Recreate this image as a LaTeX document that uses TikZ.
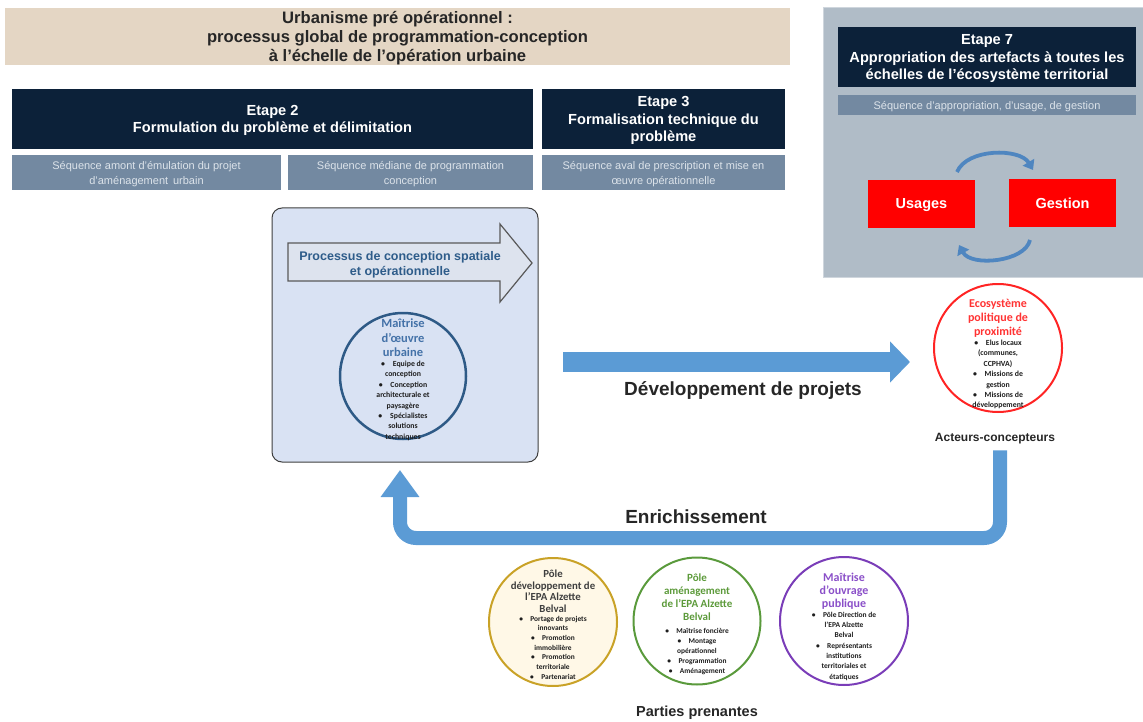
\documentclass[tikz,border=0pt]{standalone}
\usepackage{fontspec}
\setmainfont{Liberation Sans}
\newfontfamily\calib{Carlito}
\usetikzlibrary{arrows.meta}
\definecolor{beige}{HTML}{E4D6C4}
\definecolor{navy}{HTML}{0C2139}
\definecolor{slate}{HTML}{7389A1}
\definecolor{seqtext}{HTML}{DCE3EA}
\definecolor{panelgray}{HTML}{B0BCC7}
\definecolor{panelborder}{HTML}{CFD6DD}
\definecolor{redbox}{HTML}{FF0000}
\definecolor{circblue}{HTML}{4F86C0}
\definecolor{boxfill}{HTML}{D9E2F3}
\definecolor{boxborder}{HTML}{3F3F3F}
\definecolor{procfill}{HTML}{DDE3EE}
\definecolor{procborder}{HTML}{595959}
\definecolor{proctext}{HTML}{2E5C8A}
\definecolor{moborder}{HTML}{2E5A86}
\definecolor{motitle}{HTML}{4472A8}
\definecolor{bigblue}{HTML}{5B9BD5}
\definecolor{ecored}{HTML}{FF2424}
\definecolor{ecotitle}{HTML}{FF3333}
\definecolor{goldb}{HTML}{C9A227}
\definecolor{creamf}{HTML}{FFF8E7}
\definecolor{greenb}{HTML}{5A9A3C}
\definecolor{greent}{HTML}{5C9A3A}
\definecolor{purpleb}{HTML}{7A3DB8}
\definecolor{purplet}{HTML}{8A4FC8}
\definecolor{bullettext}{HTML}{1E1E1E}
\definecolor{darkt}{HTML}{3F3F3F}
\begin{document}
\begin{tikzpicture}[x=1pt,y=-1pt,
  every node/.style={inner sep=0pt, outer sep=0pt},
  boxnw/.style={anchor=north west, align=center, text depth=0pt},
  hdr/.style={boxnw, fill=navy, text=white, font=\bfseries\fontsize{14.6}{17.8}\selectfont},
  seqbox/.style={boxnw, fill=slate, text=seqtext, font=\fontsize{11}{15}\selectfont},
  redrect/.style={boxnw, fill=redbox, text=white, font=\bfseries\fontsize{14.5}{16}\selectfont, minimum width=107pt, minimum height=48pt},
  circarrow/.style={draw=circblue, line width=3.8pt, -{Triangle[width=13pt,length=9pt]}},
  ring/.style={circle, line width=2pt},
  ctitle/.style={anchor=north, align=center, font=\calib\bfseries},
  clist/.style={anchor=north, align=center, text=bullettext, font=\calib\bfseries\fontsize{7.8}{10.4}\selectfont},
  biglabel/.style={font=\bfseries\fontsize{19}{22}\selectfont, text=black!85},
  devarrow/.style={draw=bigblue, line width=20pt, -{Triangle[width=40pt,length=20pt]}},
  enrarrow/.style={draw=bigblue, line width=14pt, rounded corners=16pt, -{Triangle[width=37pt,length=27pt]}}
]
\useasboundingbox (0,0) rectangle (1143,722);

% title
\node[boxnw, fill=beige, minimum width=785pt, minimum height=57pt,
  font=\bfseries\fontsize{16.6}{19}\selectfont, text=black!85] (title) at (5,8)
  {Urbanisme pré opérationnel :\\processus global de programmation-conception\\à l’échelle de l’opération urbaine};

% etapes
\node[hdr, minimum width=521pt, minimum height=60pt] (e2) at (12,89)
  {Etape 2\\Formulation du problème et délimitation};
\node[hdr, minimum width=243pt, minimum height=60pt] (e3) at (542,89)
  {Etape 3\\Formalisation technique du\\problème};
\node[seqbox, minimum width=269pt, minimum height=35pt] (s1) at (12,155)
  {Séquence amont d’émulation du projet\\d’aménagement\, urbain};
\node[seqbox, minimum width=245pt, minimum height=35pt] (s2) at (288,155)
  {Séquence médiane de programmation\\conception};
\node[seqbox, minimum width=243pt, minimum height=35pt] (s3) at (542,155)
  {Séquence aval de prescription et mise en\\œuvre opérationnelle};

% right panel
\node[boxnw, fill=panelgray, draw=panelborder, line width=1pt, minimum width=322pt, minimum height=269pt] (panel) at (823,8) {};
\node[hdr, minimum width=298pt, minimum height=60pt] (e7) at (838,27)
  {Etape 7\\Appropriation des artefacts à toutes les\\échelles de l’écosystème territorial};
\node[seqbox, minimum width=298pt, minimum height=20pt] (s7) at (838,95)
  {Séquence d’appropriation, d’usage, de gestion};
\node[redrect] (usages) at (868,180) {Usages};
\node[redrect] (gestion) at (1009,179) {Gestion};
\draw[circarrow] ([xshift=-18pt,yshift=8pt]usages.north east)
  .. controls +(10,-24) and +(-13,-22) .. ([xshift=24pt,yshift=9pt]gestion.north west);
\draw[circarrow] ([xshift=21pt,yshift=-13pt]gestion.south west)
  .. controls +(-5,22) and +(12,22) .. ([xshift=-16pt,yshift=-17pt]usages.south east);

% main box
\node[boxnw, draw=boxborder, fill=boxfill, rounded corners=10pt, line width=1pt,
  minimum width=266pt, minimum height=254pt] (mbox) at (272,208) {};
\draw[fill=procfill, draw=procborder, line width=1.2pt]
  (288,243) -- (500,243) -- (500,224) -- (532,263) -- (500,302) -- (500,281) -- (288,281) -- cycle;
\node[align=center, text depth=0pt, text=proctext, font=\bfseries\fontsize{12.5}{15}\selectfont] (proc) at (400,263)
  {Processus de conception spatiale\\et opérationnelle};

\node[ring, draw=moborder, line width=2.5pt, minimum size=126pt] (mo) at (403,376) {};
\node[ctitle, text=motitle, font=\calib\bfseries\fontsize{12.5}{14.5}\selectfont] (moT) at (403,319)
  {Maîtrise\\d’œuvre\\urbaine};
\node[clist] (moL) at (403,361)
  {•\quad Equipe de\\conception\\•\quad Conception\\architecturale et\\paysagère\\•\quad Spécialistes\\solutions\\techniques};

% eco circle
\node[ring, draw=ecored, minimum size=128pt] (eco) at (998,348) {};
\node[ctitle, text=ecotitle, font=\calib\bfseries\fontsize{12}{14}\selectfont] (ecoT) at (998,299)
  {Ecosystème\\politique de\\proximité};
\node[clist] (ecoL) at (998,340)
  {•\quad Elus locaux\\(communes,\\CCPHVA)\\•\quad Missions de\\gestion\\•\quad Missions de\\développement};
\node[font=\bfseries\fontsize{12}{15}\selectfont, text=black!85] (acteurs) at (995,439) {Acteurs-concepteurs};

% arrows
\draw[devarrow] ([xshift=25pt,yshift=-27pt]mbox.east) -- ([xshift=-24pt,yshift=-14pt]eco.west);
\node[biglabel] (devl) at (743,391) {Développement de projets};

\coordinate (enrc) at (400,538);
\draw[enrarrow] ([xshift=5pt,yshift=-6pt]acteurs.south) |- (enrc) -- ([xshift=-5pt,yshift=-8pt]mbox.south);
\node[biglabel] (enrl) at (696,517) {Enrichissement};

% bottom circles
\node[ring, draw=goldb, fill=creamf, minimum size=128pt] (pdev) at (553,622) {};
\node[ctitle, text=darkt, font=\calib\bfseries\fontsize{10.8}{11.6}\selectfont] (pdevT) at (553,570)
  {Pôle\\développement de\\l’EPA Alzette\\Belval};
\node[clist, font=\calib\bfseries\fontsize{7.4}{9.7}\selectfont] (pdevL) at (553,616)
  {•\quad Portage de projets\\innovants\\•\quad Promotion\\immobilière\\•\quad Promotion\\territoriale\\•\quad Partenariat};

\node[ring, draw=greenb, minimum size=127pt] (pam) at (697,621) {};
\node[ctitle, text=greent, font=\calib\bfseries\fontsize{11}{13}\selectfont] (pamT) at (697,574)
  {Pôle\\aménagement\\de l’EPA Alzette\\Belval};
\node[clist, font=\calib\bfseries\fontsize{7.4}{10}\selectfont] (pamL) at (697,628)
  {•\quad Maîtrise foncière\\•\quad Montage\\opérationnel\\•\quad Programmation\\•\quad Aménagement};

\node[ring, draw=purpleb, minimum size=128pt] (mop) at (844,621) {};
\node[ctitle, text=purplet, font=\calib\bfseries\fontsize{12}{13}\selectfont] (mopT) at (844,573)
  {Maîtrise\\d’ouvrage\\publique};
\node[clist, font=\calib\bfseries\fontsize{7.5}{10.3}\selectfont] (mopL) at (844,612)
  {•\quad Pôle Direction de\\l’EPA Alzette\\Belval\\•\quad Représentants\\institutions\\territoriales et\\étatiques};

\node[font=\bfseries\fontsize{14.5}{17}\selectfont, text=black!85] (parties) at (697,713) {Parties prenantes};
\end{tikzpicture}
\end{document}
